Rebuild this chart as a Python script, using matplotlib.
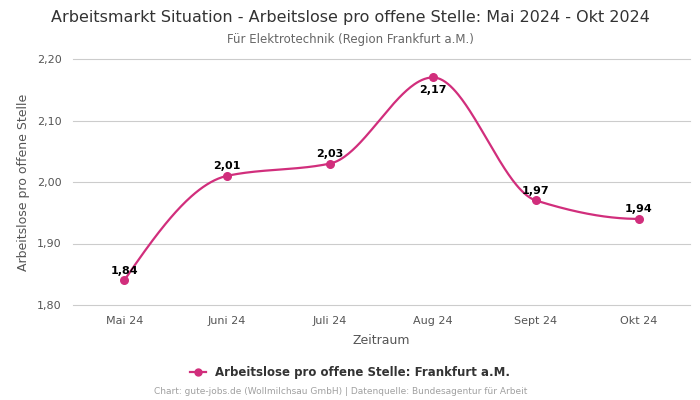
import numpy as np
import matplotlib
matplotlib.use("Agg")
from matplotlib import pyplot as plt
from matplotlib.lines import Line2D

months = ['Mai 24', 'Juni 24', 'Juli 24', 'Aug 24', 'Sept 24', 'Okt 24']
values = [1.84, 2.01, 2.03, 2.17, 1.97, 1.94]
label_above = [True, True, True, False, True, True]
y_ticks = [1.80, 1.90, 2.00, 2.10, 2.20]

LINE = '#d12e7c'


def pchip(x, y, xs):
    # monotone cubic (Fritsch-Carlson)
    x = np.asarray(x, float)
    y = np.asarray(y, float)
    h = np.diff(x)
    d = np.diff(y) / h
    n = len(x)
    m = np.zeros(n)
    for k in range(1, n - 1):
        if d[k - 1] * d[k] <= 0:
            m[k] = 0
        else:
            w1 = 2 * h[k] + h[k - 1]
            w2 = h[k] + 2 * h[k - 1]
            m[k] = (w1 + w2) / (w1 / d[k - 1] + w2 / d[k])
    m[0] = ((2 * h[0] + h[1]) * d[0] - h[0] * d[1]) / (h[0] + h[1])
    if np.sign(m[0]) != np.sign(d[0]):
        m[0] = 0
    m[-1] = ((2 * h[-1] + h[-2]) * d[-1] - h[-1] * d[-2]) / (h[-1] + h[-2])
    if np.sign(m[-1]) != np.sign(d[-1]):
        m[-1] = 0
    out = np.empty_like(xs)
    for i, xv in enumerate(xs):
        k = min(np.searchsorted(x, xv, side='right') - 1, n - 2)
        t = (xv - x[k]) / h[k]
        h00 = 2 * t**3 - 3 * t**2 + 1
        h10 = t**3 - 2 * t**2 + t
        h01 = -2 * t**3 + 3 * t**2
        h11 = t**3 - t**2
        out[i] = h00 * y[k] + h10 * h[k] * m[k] + h01 * y[k + 1] + h11 * h[k] * m[k + 1]
    return out


fig = plt.figure(figsize=(7, 4), dpi=100)
ax = fig.add_axes([0.104, 0.2375, 0.882, 0.615])

xi = np.arange(len(values))
xs = np.linspace(0, len(values) - 1, 400)
ax.plot(xs, pchip(xi, values, xs), color=LINE, lw=1.6, zorder=3)
ax.scatter(xi, values, s=30, color=LINE, zorder=4)

for i, v in enumerate(values):
    off = 7 if label_above[i] else -9
    ax.annotate(f'{v:.2f}'.replace('.', ','), (i, v), xytext=(0, off), textcoords='offset points',
                ha='center', va='center', fontsize=8, fontweight='bold', color='black')

ax.set_xlim(-0.5, len(values) - 0.5)
ax.set_ylim(1.80, 2.20)
ax.set_yticks(y_ticks)
ax.set_yticklabels([f'{t:.2f}'.replace('.', ',') for t in y_ticks])
ax.set_xticks(xi)
ax.set_xticklabels(months)
ax.tick_params(length=0, labelsize=8, labelcolor='#555555', pad=8)
ax.grid(axis='y', color='#cccccc', lw=0.8)
for gl in ax.get_ygridlines():
    gl.set_clip_on(False)
ax.set_axisbelow(True)
for s in ax.spines.values():
    s.set_visible(False)

ax.set_xlabel('Zeitraum', fontsize=9, color='#555555', labelpad=6)
ax.set_ylabel('Arbeitslose pro offene Stelle', fontsize=9, color='#555555', labelpad=5)

fig.text(0.5, 0.957, 'Arbeitsmarkt Situation - Arbeitslose pro offene Stelle: Mai 2024 - Okt 2024',
         ha='center', va='center', fontsize=11.5, color='#333333')
fig.text(0.5, 0.902, 'Für Elektrotechnik (Region Frankfurt a.M.)',
         ha='center', va='center', fontsize=8.5, color='#666666')

handle = Line2D([0], [0], color=LINE, lw=1.6, marker='o', markersize=5)
fig.legend([handle], ['Arbeitslose pro offene Stelle: Frankfurt a.M.'], loc='center',
           bbox_to_anchor=(0.5, 0.068), frameon=False, handlelength=1.4,
           prop={'size': 8.5, 'weight': 'bold'}, labelcolor='#333333')

fig.text(0.486, 0.02, 'Chart: gute-jobs.de (Wollmilchsau GmbH) | Datenquelle: Bundesagentur für Arbeit',
         ha='center', va='center', fontsize=6.5, color='#a0a0a0')

fig.savefig('out.png', dpi=100)
